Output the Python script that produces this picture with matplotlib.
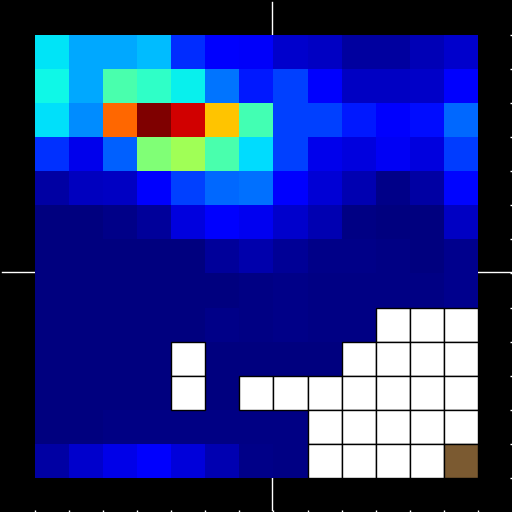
import numpy as np
import matplotlib
matplotlib.use("Agg")
import matplotlib.pyplot as plt
from matplotlib.patches import Rectangle

N = np.nan
# grid values (rows from top), NaN = empty cell (drawn white)
row0 = [0.35, 0.29, 0.29, 0.31, 0.17, 0.11, 0.108, 0.07, 0.06, 0.028, 0.03, 0.05, 0.07]
row1 = [0.37, 0.29, 0.44, 0.41, 0.36, 0.24, 0.15, 0.19, 0.11, 0.06, 0.06, 0.065, 0.11]
row2 = [0.345, 0.265, 0.80, 1.00, 0.927, 0.70, 0.43, 0.19, 0.19, 0.15, 0.11, 0.14, 0.23]
row3 = [0.175, 0.095, 0.22, 0.505, 0.545, 0.44, 0.34, 0.19, 0.095, 0.085, 0.105, 0.085, 0.185]
row4 = [0.035, 0.055, 0.06, 0.11, 0.19, 0.23, 0.235, 0.11, 0.075, 0.045, 0.008, 0.035, 0.13]
row5 = [0.0, 0.0, 0.01, 0.025, 0.085, 0.11, 0.1, 0.07, 0.045, 0.005, 0.003, 0.0, 0.06]
row6 = [0.0, 0.0, 0.002, 0.0, 0.003, 0.025, 0.04, 0.02, 0.01, 0.008, 0.005, 0.002, 0.012]
row7 = [0.0, 0.0, 0.0, 0.0, 0.0, 0.001, 0.004, 0.01, 0.007, 0.007, 0.004, 0.004, 0.012]
row8 = [0.003, 0.003, 0.003, 0.003, 0.003, 0.008, 0.006, 0.008, 0.007, 0.006, N, N, N]
row9 = [0.003, 0.003, 0.003, 0.003, N, 0.003, 0.003, 0.003, 0.003, N, N, N, N]
row10 = [0.003, 0.003, 0.003, 0.003, N, 0.003, N, N, N, N, N, N, N]
row11 = [0.003, 0.003, 0.005, 0.005, 0.005, 0.005, 0.005, 0.005, N, N, N, N, N]
row12 = [0.035, 0.07, 0.09, 0.11, 0.08, 0.045, 0.008, 0.005, N, N, N, N, N]
rows = [row0, row1, row2, row3, row4, row5, row6, row7, row8, row9, row10, row11, row12]

# special highlighted cell (row, col)
flag_cell = (12, 12)
flag_color = "#7b5a31"
# crosshair position (cell units)
cross_x = 6.97
cross_y = 6.97

data = np.array(rows, dtype=float)
nr, nc = data.shape

fig = plt.figure(figsize=(5.12, 5.12), dpi=100, facecolor="black")
ax = fig.add_axes([0, 0, 1, 1])
ax.set_facecolor("black")

ax.axvline(cross_x, ymin=0.004, ymax=0.996, color="white", lw=1.0, zorder=0)
ax.axhline(cross_y, xmin=0.004, xmax=1.0, color="white", lw=1.0, zorder=0)

masked = np.ma.masked_invalid(data)
ax.imshow(masked, cmap="jet", vmin=0, vmax=1, interpolation="nearest",
          extent=(0, nc, nr, 0), zorder=1)

for r in range(nr):
    for c in range(nc):
        if (r, c) == flag_cell:
            ax.add_patch(Rectangle((c, r), 1, 1, facecolor=flag_color,
                                   edgecolor="black", lw=1.0, zorder=2))
        elif np.isnan(data[r, c]):
            ax.add_patch(Rectangle((c, r), 1, 1, facecolor="white",
                                   edgecolor="black", lw=1.0, zorder=2))

ax.set_xlim(-1.027, nc + 1.0)
ax.set_ylim(nr + 1.0, -1.027)
ax.set_xticks(np.arange(nc + 1))
ax.set_yticks(np.arange(nr + 1))
ax.tick_params(axis="both", direction="in", color="white", length=1.6, width=1,
               bottom=True, top=False, left=False, right=True,
               labelbottom=False, labelleft=False)
for s in ax.spines.values():
    s.set_visible(False)

fig.savefig("out.png", dpi=100, facecolor="black")
